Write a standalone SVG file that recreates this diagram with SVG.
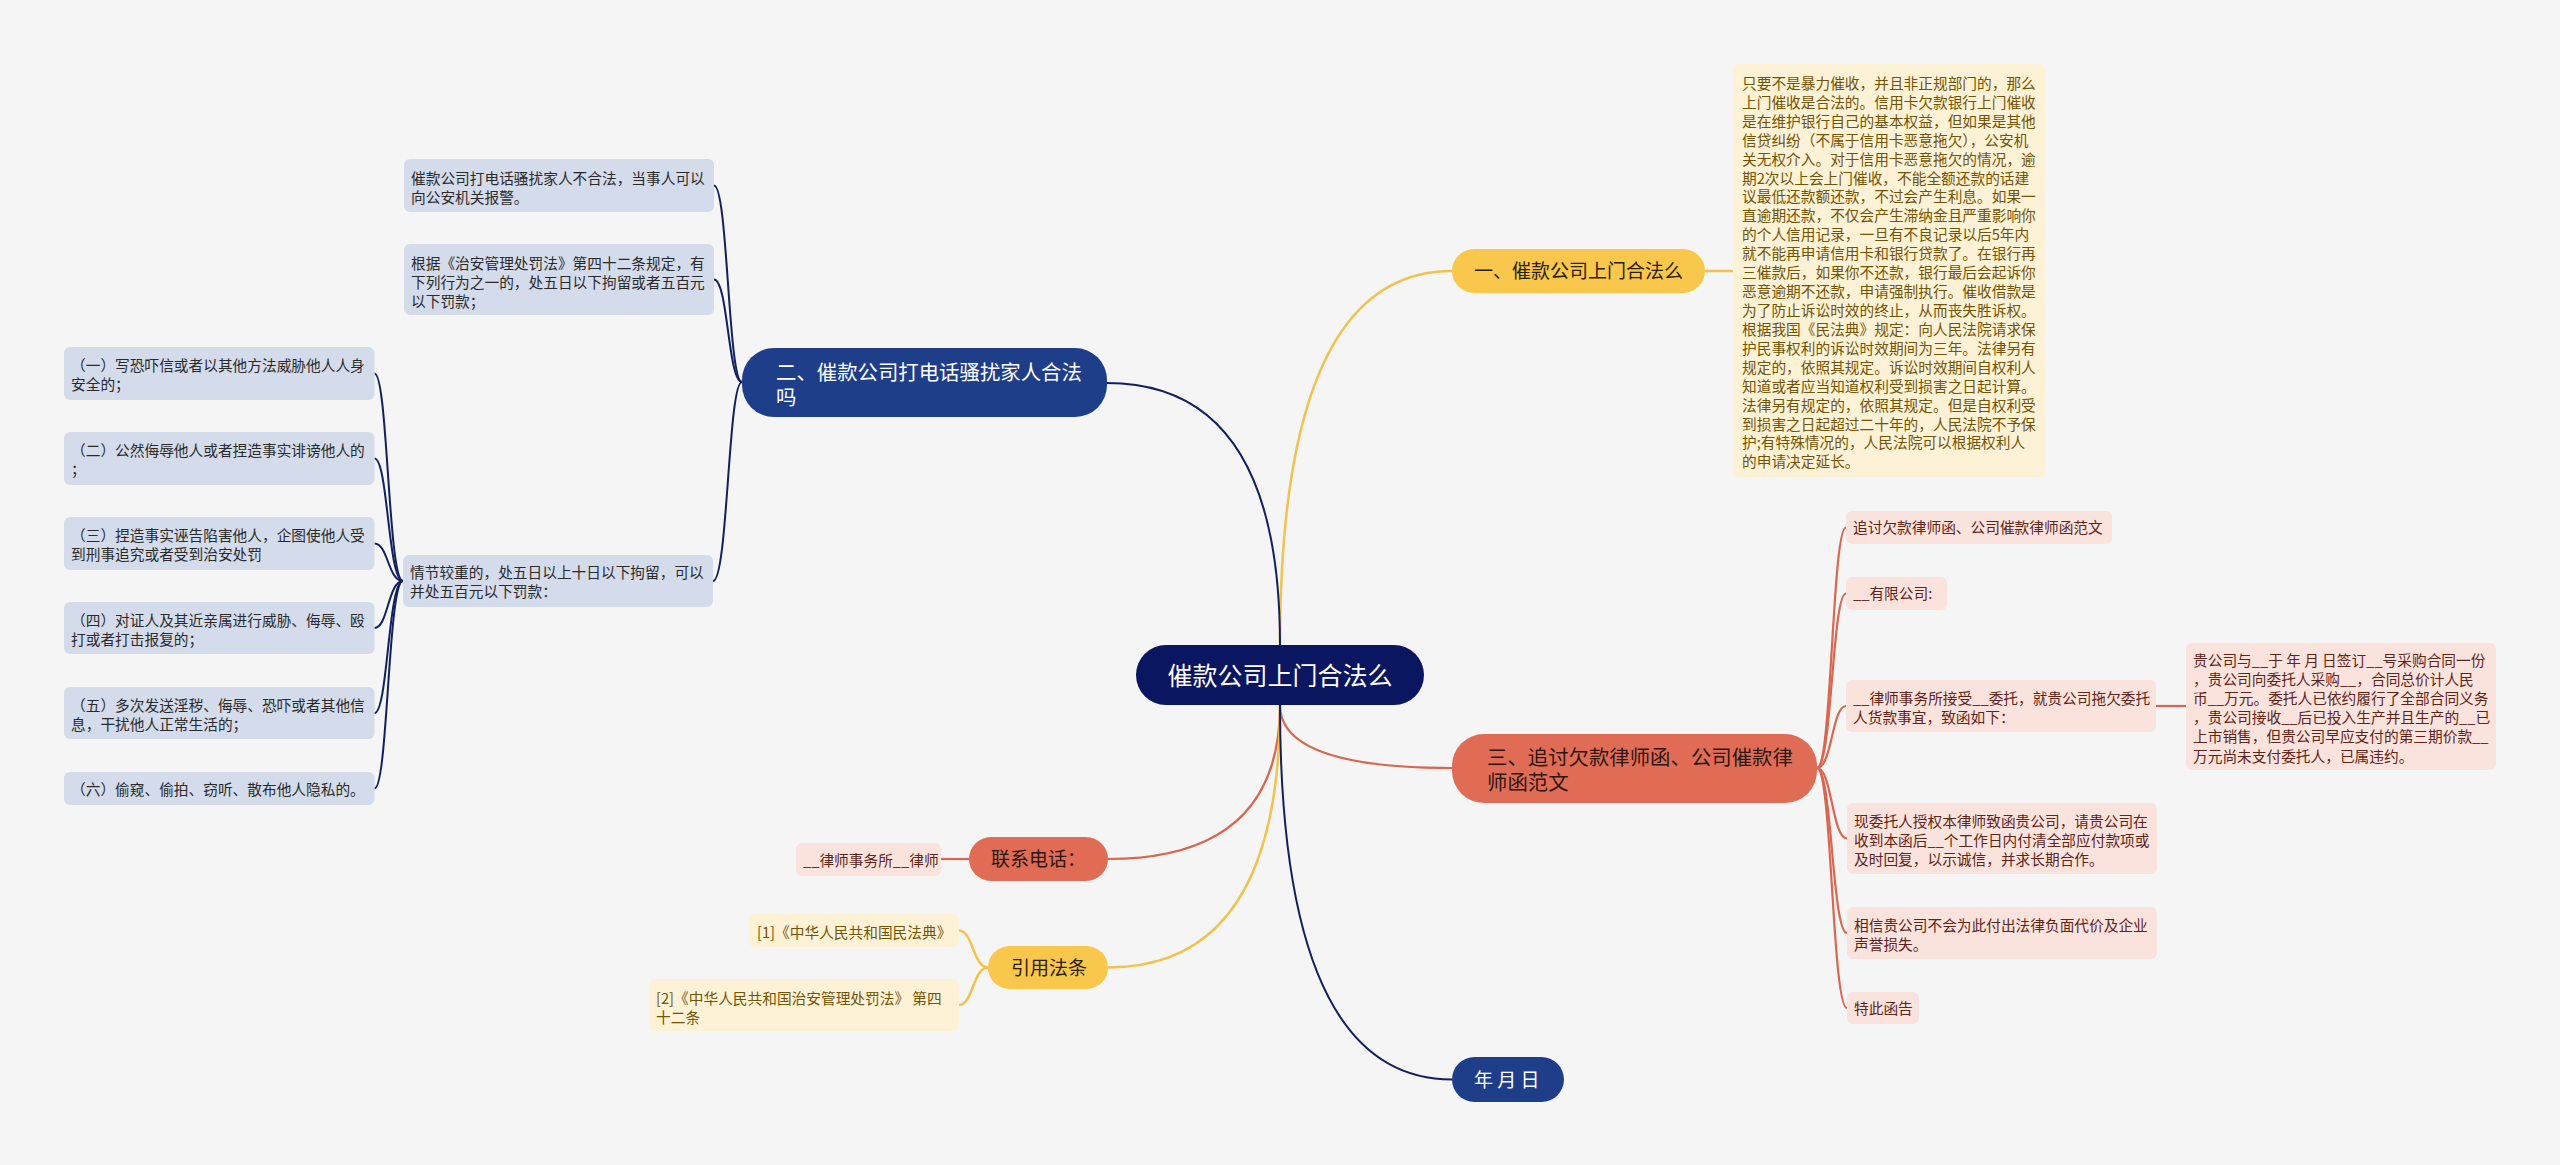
<svg xmlns="http://www.w3.org/2000/svg" width="2560" height="1165" viewBox="0 0 2560 1165">
<style>
text{font-family:"Noto Sans CJK SC","Noto Sans",sans-serif;}
.s{font-size:14.7px;}
.nb{fill:#d4dbea;}
.tb{fill:#2a2a2a;}
.np{fill:#fbe3dd;}
.tp{fill:#5e2418;}
.nc{fill:#fdf1d6;}
.tc{fill:#735405;}
.lnav{fill:none;stroke:#12215e;stroke-width:2;}
.lyel{fill:none;stroke:#f2c24f;stroke-width:2.5;}
.lsal{fill:none;stroke:#d9664f;stroke-width:2.2;}
.bw{fill:#ffffff;}
</style>
<rect x="0" y="0" width="2560" height="1165" fill="#f5f5f5"/>

<g id="connectors">
  <path class="lyel" d="M1280,645 Q1280,271 1452,271"/>
  <path class="lnav" d="M1280,645 Q1280,383 1107,383" stroke-width="2.5"/>
  <path class="lsal" d="M1280,705 Q1280,768 1452,768" stroke-width="2.5"/>
  <path class="lsal" d="M1280,705 Q1280,859 1108,859" stroke-width="2.5"/>
  <path class="lyel" d="M1280,705 Q1280,967.5 1108,967.5"/>
  <path class="lnav" d="M1280,705 Q1280,1079.5 1452,1079.5" stroke-width="2.5"/>

  <path class="lyel" d="M1705,271 L1733,271"/>

  <path class="lnav" d="M742,382 C728,382 728,185.5 714,185.5"/>
  <path class="lnav" d="M742,382 C728,382 728,279.5 714,279.5"/>
  <path class="lnav" d="M742,382 C728,382 728,581 713,581"/>

  <path class="lnav" d="M403,581 C388,581 388,373.5 374.5,373.5"/>
  <path class="lnav" d="M403,581 C388,581 388,458.5 374.5,458.5"/>
  <path class="lnav" d="M403,581 C388,581 388,543.5 374.5,543.5"/>
  <path class="lnav" d="M403,581 C388,581 388,628 374.5,628"/>
  <path class="lnav" d="M403,581 C388,581 388,713 374.5,713"/>
  <path class="lnav" d="M403,581 C388,581 388,788.5 374.5,788.5"/>

  <path class="lsal" d="M1817,768 C1832,768 1832,527.5 1846,527.5"/>
  <path class="lsal" d="M1817,768 C1832,768 1832,593.5 1846,593.5"/>
  <path class="lsal" d="M1817,768 C1832,768 1832,706 1846,706"/>
  <path class="lsal" d="M1817,768 C1832,768 1832,838.5 1847,838.5"/>
  <path class="lsal" d="M1817,768 C1832,768 1832,933 1847,933"/>
  <path class="lsal" d="M1817,768 C1832,768 1832,1008 1847,1008"/>
  <path class="lsal" d="M2156,706 L2186,706" stroke-width="3"/>

  <path class="lsal" d="M969,859 L941,859" stroke-width="3"/>

  <path class="lyel" d="M988,967.5 C973,967.5 973,930.5 959,930.5"/>
  <path class="lyel" d="M988,967.5 C973,967.5 973,1005 959,1005"/>
</g>

<g id="root">
  <rect x="1136" y="645" width="288" height="60" rx="30" fill="#0b1660"/>
  <text x="1280" y="684.5" font-size="25" text-anchor="middle" class="bw">催款公司上门合法么</text>
</g>

<g id="b1">
  <rect x="1452" y="249" width="253" height="44" rx="22" fill="#f9c74c"/>
  <text x="1578.5" y="278" font-size="19" text-anchor="middle" fill="#2b2000">一、催款公司上门合法么</text>
</g>
<g id="b1-text">
  <rect x="1733" y="64" width="312" height="413" rx="6" class="nc"/>
  <text class="s tc">
    <tspan x="1742" y="88.9">只要不是暴力催收，并且非正规部门的，那么</tspan>
    <tspan x="1742" y="107.8">上门催收是合法的。信用卡欠款银行上门催收</tspan>
    <tspan x="1742" y="126.7">是在维护银行自己的基本权益，但如果是其他</tspan>
    <tspan x="1742" y="145.7">信贷纠纷（不属于信用卡恶意拖欠），公安机</tspan>
    <tspan x="1742" y="164.6">关无权介入。对于信用卡恶意拖欠的情况，逾</tspan>
    <tspan x="1742" y="183.5">期2次以上会上门催收，不能全额还款的话建</tspan>
    <tspan x="1742" y="202.4">议最低还款额还款，不过会产生利息。如果一</tspan>
    <tspan x="1742" y="221.3">直逾期还款，不仅会产生滞纳金且严重影响你</tspan>
    <tspan x="1742" y="240.3">的个人信用记录，一旦有不良记录以后5年内</tspan>
    <tspan x="1742" y="259.2">就不能再申请信用卡和银行贷款了。在银行再</tspan>
    <tspan x="1742" y="278.1">三催款后，如果你不还款，银行最后会起诉你</tspan>
    <tspan x="1742" y="297.0">恶意逾期不还款，申请强制执行。催收借款是</tspan>
    <tspan x="1742" y="315.9">为了防止诉讼时效的终止，从而丧失胜诉权。</tspan>
    <tspan x="1742" y="334.9">根据我国《民法典》规定：向人民法院请求保</tspan>
    <tspan x="1742" y="353.8">护民事权利的诉讼时效期间为三年。法律另有</tspan>
    <tspan x="1742" y="372.7">规定的，依照其规定。诉讼时效期间自权利人</tspan>
    <tspan x="1742" y="391.6">知道或者应当知道权利受到损害之日起计算。</tspan>
    <tspan x="1742" y="410.5">法律另有规定的，依照其规定。但是自权利受</tspan>
    <tspan x="1742" y="429.5">到损害之日起超过二十年的，人民法院不予保</tspan>
    <tspan x="1742" y="448.4">护;有特殊情况的，人民法院可以根据权利人</tspan>
    <tspan x="1742" y="467.3">的申请决定延长。</tspan>
  </text>
</g>

<g id="b2">
  <rect x="742" y="348" width="365" height="69" rx="32" fill="#1f3e8a"/>
  <text font-size="20.4" class="bw">
    <tspan x="776" y="379.7">二、催款公司打电话骚扰家人合法</tspan>
    <tspan x="776" y="404.7">吗</tspan>
  </text>
</g>
<g id="b2-a">
  <rect x="404" y="159" width="310" height="53" rx="6" class="nb"/>
  <text class="s tb"><tspan x="411" y="183.6">催款公司打电话骚扰家人不合法，当事人可以</tspan><tspan x="411" y="202.6">向公安机关报警。</tspan></text>
</g>
<g id="b2-b">
  <rect x="404" y="244" width="310" height="71" rx="6" class="nb"/>
  <text class="s tb"><tspan x="411" y="268.6">根据《治安管理处罚法》第四十二条规定，有</tspan><tspan x="411" y="287.6">下列行为之一的，处五日以下拘留或者五百元</tspan><tspan x="411" y="306.6">以下罚款；</tspan></text>
</g>
<g id="b2-c">
  <rect x="403" y="555" width="310" height="52" rx="6" class="nb"/>
  <text class="s tb"><tspan x="410" y="577.6">情节较重的，处五日以上十日以下拘留，可以</tspan><tspan x="410" y="596.6">并处五百元以下罚款：</tspan></text>
</g>
<g id="c1">
  <rect x="64" y="347" width="310.5" height="53" rx="6" class="nb"/>
  <text class="s tb"><tspan x="71" y="370.6">（一）写恐吓信或者以其他方法威胁他人人身</tspan><tspan x="71" y="389.6">安全的；</tspan></text>
</g>
<g id="c2">
  <rect x="64" y="432" width="310.5" height="53" rx="6" class="nb"/>
  <text class="s tb"><tspan x="71" y="455.6">（二）公然侮辱他人或者捏造事实诽谤他人的</tspan><tspan x="71" y="474.6">；</tspan></text>
</g>
<g id="c3">
  <rect x="64" y="517" width="310.5" height="53" rx="6" class="nb"/>
  <text class="s tb"><tspan x="71" y="540.6">（三）捏造事实诬告陷害他人，企图使他人受</tspan><tspan x="71" y="559.6">到刑事追究或者受到治安处罚</tspan></text>
</g>
<g id="c4">
  <rect x="64" y="602" width="310.5" height="52" rx="6" class="nb"/>
  <text class="s tb"><tspan x="71" y="625.6">（四）对证人及其近亲属进行威胁、侮辱、殴</tspan><tspan x="71" y="644.6">打或者打击报复的；</tspan></text>
</g>
<g id="c5">
  <rect x="64" y="687" width="310.5" height="52" rx="6" class="nb"/>
  <text class="s tb"><tspan x="71" y="710.6">（五）多次发送淫秽、侮辱、恐吓或者其他信</tspan><tspan x="71" y="729.6">息，干扰他人正常生活的；</tspan></text>
</g>
<g id="c6">
  <rect x="64" y="772" width="310.5" height="33" rx="6" class="nb"/>
  <text class="s tb" x="71" y="794.6">（六）偷窥、偷拍、窃听、散布他人隐私的。</text>
</g>

<g id="b3">
  <rect x="1452" y="734" width="365" height="69" rx="32" fill="#e06c56"/>
  <text font-size="20.4" fill="#2e1510">
    <tspan x="1487" y="765">三、追讨欠款律师函、公司催款律</tspan>
    <tspan x="1487" y="790">师函范文</tspan>
  </text>
</g>
<g id="p1">
  <rect x="1846" y="511" width="266" height="33" rx="6" class="np"/>
  <text class="s tp" x="1853" y="533.1">追讨欠款律师函、公司催款律师函范文</text>
</g>
<g id="p2">
  <rect x="1846" y="577" width="101" height="33" rx="6" class="np"/>
  <text class="s tp" x="1853" y="599.1">__有限公司:</text>
</g>
<g id="p3">
  <rect x="1846" y="680" width="310" height="52" rx="6" class="np"/>
  <text class="s tp"><tspan x="1853" y="703.6">__律师事务所接受__委托，就贵公司拖欠委托</tspan><tspan x="1853" y="722.6">人货款事宜，致函如下：</tspan></text>
</g>
<g id="p3a">
  <rect x="2186" y="643" width="310" height="127" rx="6" class="np"/>
  <text class="s tp">
    <tspan x="2193" y="665.6">贵公司与__于 年 月 日签订__号采购合同一份</tspan>
    <tspan x="2193" y="684.8">，贵公司向委托人采购__，合同总价计人民</tspan>
    <tspan x="2193" y="704.0">币__万元。委托人已依约履行了全部合同义务</tspan>
    <tspan x="2193" y="723.2">，贵公司接收__后已投入生产并且生产的__已</tspan>
    <tspan x="2193" y="742.4">上市销售，但贵公司早应支付的第三期价款__</tspan>
    <tspan x="2193" y="761.6">万元尚未支付委托人，已属违约。</tspan>
  </text>
</g>
<g id="p4">
  <rect x="1847" y="803" width="310" height="71" rx="6" class="np"/>
  <text class="s tp"><tspan x="1854" y="826.6">现委托人授权本律师致函贵公司，请贵公司在</tspan><tspan x="1854" y="845.6">收到本函后__个工作日内付清全部应付款项或</tspan><tspan x="1854" y="864.6">及时回复，以示诚信，并求长期合作。</tspan></text>
</g>
<g id="p5">
  <rect x="1847" y="907" width="310" height="52" rx="6" class="np"/>
  <text class="s tp"><tspan x="1854" y="930.6">相信贵公司不会为此付出法律负面代价及企业</tspan><tspan x="1854" y="949.6">声誉损失。</tspan></text>
</g>
<g id="p6">
  <rect x="1847" y="992" width="72" height="32" rx="6" class="np"/>
  <text class="s tp" x="1854" y="1013.6">特此函告</text>
</g>

<g id="contact">
  <rect x="969" y="837" width="139" height="44" rx="22" fill="#e06c56"/>
  <text x="991" y="866" font-size="19" fill="#2e1510">联系电话：</text>
</g>
<g id="contact-1">
  <rect x="796" y="843" width="145" height="33" rx="6" class="np"/>
  <text class="s tp" x="803" y="865.6">__律师事务所__律师</text>
</g>

<g id="refs">
  <rect x="988" y="946" width="120" height="43" rx="21.5" fill="#f9c74c"/>
  <text x="1011" y="974.5" font-size="19" fill="#2b2000">引用法条</text>
</g>
<g id="ref1">
  <rect x="749" y="914" width="210" height="33" rx="6" class="nc"/>
  <text class="s tc" x="757" y="937.6">[1]《中华人民共和国民法典》</text>
</g>
<g id="ref2">
  <rect x="649" y="979" width="310" height="52" rx="6" class="nc"/>
  <text class="s tc"><tspan x="656" y="1003.6">[2]《中华人民共和国治安管理处罚法》 第四</tspan><tspan x="656" y="1022.6">十二条</tspan></text>
</g>

<g id="date">
  <rect x="1452" y="1057" width="112" height="45" rx="22.5" fill="#1f3e8a"/>
  <text x="1474" y="1086.5" font-size="19" class="bw">年 月 日</text>
</g>
</svg>
